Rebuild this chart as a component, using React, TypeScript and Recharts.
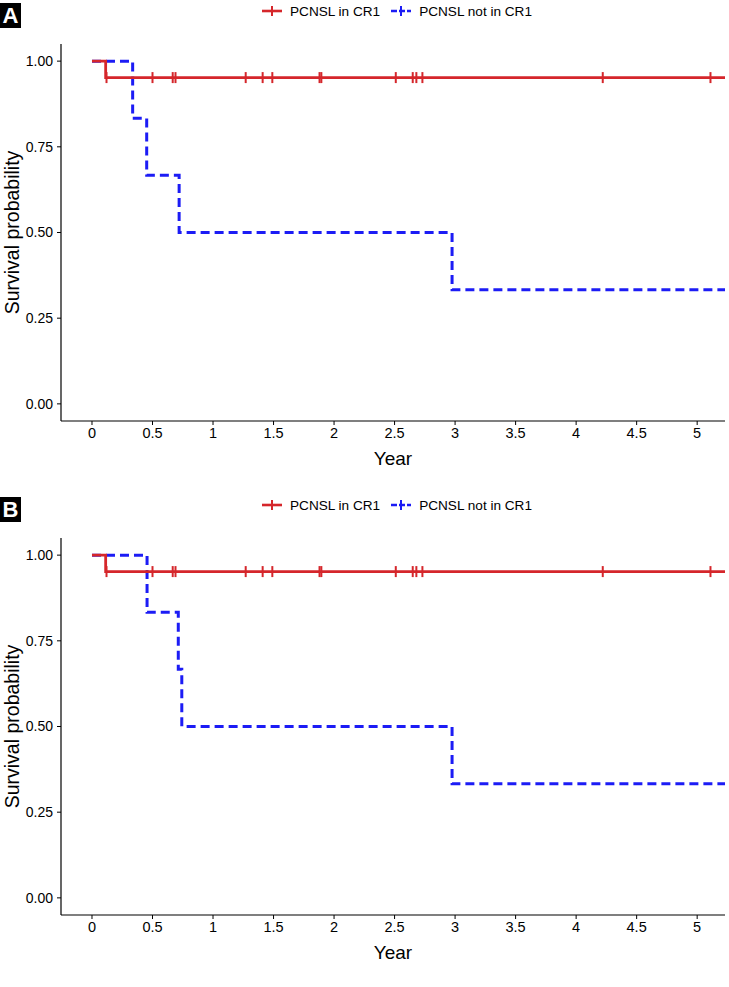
import React from 'react';
import { LineChart, Line, XAxis, YAxis } from 'recharts';

// ---- data ----
const xTicks = [0, 0.5, 1, 1.5, 2, 2.5, 3, 3.5, 4, 4.5, 5];
const yTicks = [0, 0.25, 0.5, 0.75, 1];

// PCNSL in CR1 (same in both panels)
const redTime = [0, 0.113];
const redSurv = [1.0, 0.952];
const redCensor = [0.12, 0.5, 0.667, 0.69, 1.27, 1.41, 1.49, 1.88, 1.895, 2.51, 2.65, 2.68, 2.73, 4.22, 5.11];

// PCNSL not in CR1, panel A
const blueTimeA = [0, 0.336, 0.452, 0.72, 2.975];
const blueSurvA = [1.0, 0.833, 0.667, 0.5, 0.333];
// PCNSL not in CR1, panel B
const blueTimeB = [0, 0.455, 0.713, 0.742, 2.975];
const blueSurvB = [1.0, 0.833, 0.667, 0.5, 0.333];
const blueCensor: number[] = [];

const followUpEnd = 5.23;

const RED = '#D5262B';
const BLUE = '#1C1CF5';
const FONT = '"Liberation Sans", Arial, sans-serif';

function buildSeries(times: number[], surv: number[], censor: number[]) {
  const survAt = (t: number) => {
    let s = surv[0];
    for (let i = 0; i < times.length; i++) if (times[i] <= t) s = surv[i];
    return s;
  };
  const pts = times.map((t, i) => ({ t, s: surv[i], censor: false }));
  censor.forEach((c) => pts.push({ t: c, s: survAt(c), censor: true }));
  pts.push({ t: followUpEnd, s: survAt(followUpEnd), censor: false });
  pts.sort((a, b) => a.t - b.t);
  return pts;
}

const makeDot = (color: string) => (p: any) => {
  if (!p.payload || !p.payload.censor) return <g key={'n' + p.index} />;
  return (
    <line
      key={'c' + p.index}
      x1={p.cx}
      x2={p.cx}
      y1={p.cy - 5.5}
      y2={p.cy + 5.5}
      stroke={color}
      strokeWidth={2}
    />
  );
};

const YLabel = (props: any) => {
  const vb = props.viewBox || { x: 0, y: 44, width: 61, height: 377 };
  const cy = vb.y + vb.height / 2;
  return (
    <text
      transform={`translate(12, ${cy}) rotate(-90)`}
      textAnchor="middle"
      dominantBaseline="central"
      fontSize={19.5}
      fill="#000"
      fontFamily={FONT}
    >
      Survival probability
    </text>
  );
};

const LegendMarker = ({ color, dashed }: { color: string; dashed?: boolean }) => (
  <svg width={22} height={14} style={{ display: 'block' }}>
    <line x1={1} x2={21} y1={7} y2={7} stroke={color} strokeWidth={2.6} strokeDasharray={dashed ? '6 2' : undefined} />
    <line x1={11} x2={11} y1={2} y2={12} stroke={color} strokeWidth={2} />
  </svg>
);

function Panel({ letter, top, blueTime, blueSurv }: { letter: string; top: number; blueTime: number[]; blueSurv: number[] }) {
  const red = buildSeries(redTime, redSurv, redCensor);
  const blue = buildSeries(blueTime, blueSurv, blueCensor);
  return (
    <div style={{ position: 'absolute', left: 0, top, width: 729, height: 494 }}>
      <div
        style={{
          position: 'absolute',
          left: 0,
          top: 3,
          width: 21,
          height: 25,
          background: '#000',
          color: '#fff',
          fontFamily: FONT,
          fontWeight: 'bold',
          fontSize: 22,
          lineHeight: '25px',
          textAlign: 'center',
        }}
      >
        {letter}
      </div>
      <div
        style={{
          position: 'absolute',
          left: 261,
          top: 1,
          height: 20,
          display: 'flex',
          alignItems: 'center',
          fontFamily: FONT,
          fontSize: 13.6,
          color: '#000',
          whiteSpace: 'nowrap',
        }}
      >
        <LegendMarker color={RED} />
        <span style={{ marginLeft: 7, marginRight: 10 }}>PCNSL in CR1</span>
        <LegendMarker color={BLUE} dashed />
        <span style={{ marginLeft: 7 }}>PCNSL not in CR1</span>
      </div>
      <LineChart width={729} height={494} margin={{ top: 44, right: 4, bottom: 29, left: 0 }}>
        <XAxis
          type="number"
          dataKey="t"
          domain={[-0.256, 5.23]}
          ticks={xTicks}
          interval={0}
          allowDataOverflow
          tickSize={4}
          tickMargin={3}
          height={44}
          axisLine={{ stroke: '#000', strokeWidth: 1.2 }}
          tickLine={{ stroke: '#000', strokeWidth: 1 }}
          tick={{ fill: '#000', fontSize: 14.5, fontFamily: FONT }}
          label={{ value: 'Year', position: 'insideBottom', offset: 0, fill: '#000', fontSize: 19, fontFamily: FONT }}
        />
        <YAxis
          type="number"
          domain={[-0.05, 1.05]}
          ticks={yTicks}
          interval={0}
          allowDataOverflow
          tickFormatter={(v: number) => v.toFixed(2)}
          width={61}
          tickSize={4}
          tickMargin={4}
          axisLine={{ stroke: '#000', strokeWidth: 1.2 }}
          tickLine={{ stroke: '#000', strokeWidth: 1 }}
          tick={{ fill: '#000', fontSize: 14, fontFamily: FONT }}
          label={{ content: YLabel }}
        />
        <Line
          data={blue}
          dataKey="s"
          type="stepAfter"
          stroke={BLUE}
          strokeWidth={3}
          strokeDasharray="9 5"
          dot={makeDot(BLUE)}
          activeDot={false}
          isAnimationActive={false}
        />
        <Line
          data={red}
          dataKey="s"
          type="stepAfter"
          stroke={RED}
          strokeWidth={2.8}
          dot={makeDot(RED)}
          activeDot={false}
          isAnimationActive={false}
        />
      </LineChart>
    </div>
  );
}

export default function App() {
  return (
    <div style={{ position: 'absolute', left: 0, top: 0, width: 729, height: 987, background: '#fff' }}>
      <Panel letter="A" top={0} blueTime={blueTimeA} blueSurv={blueSurvA} />
      <Panel letter="B" top={494} blueTime={blueTimeB} blueSurv={blueSurvB} />
    </div>
  );
}
